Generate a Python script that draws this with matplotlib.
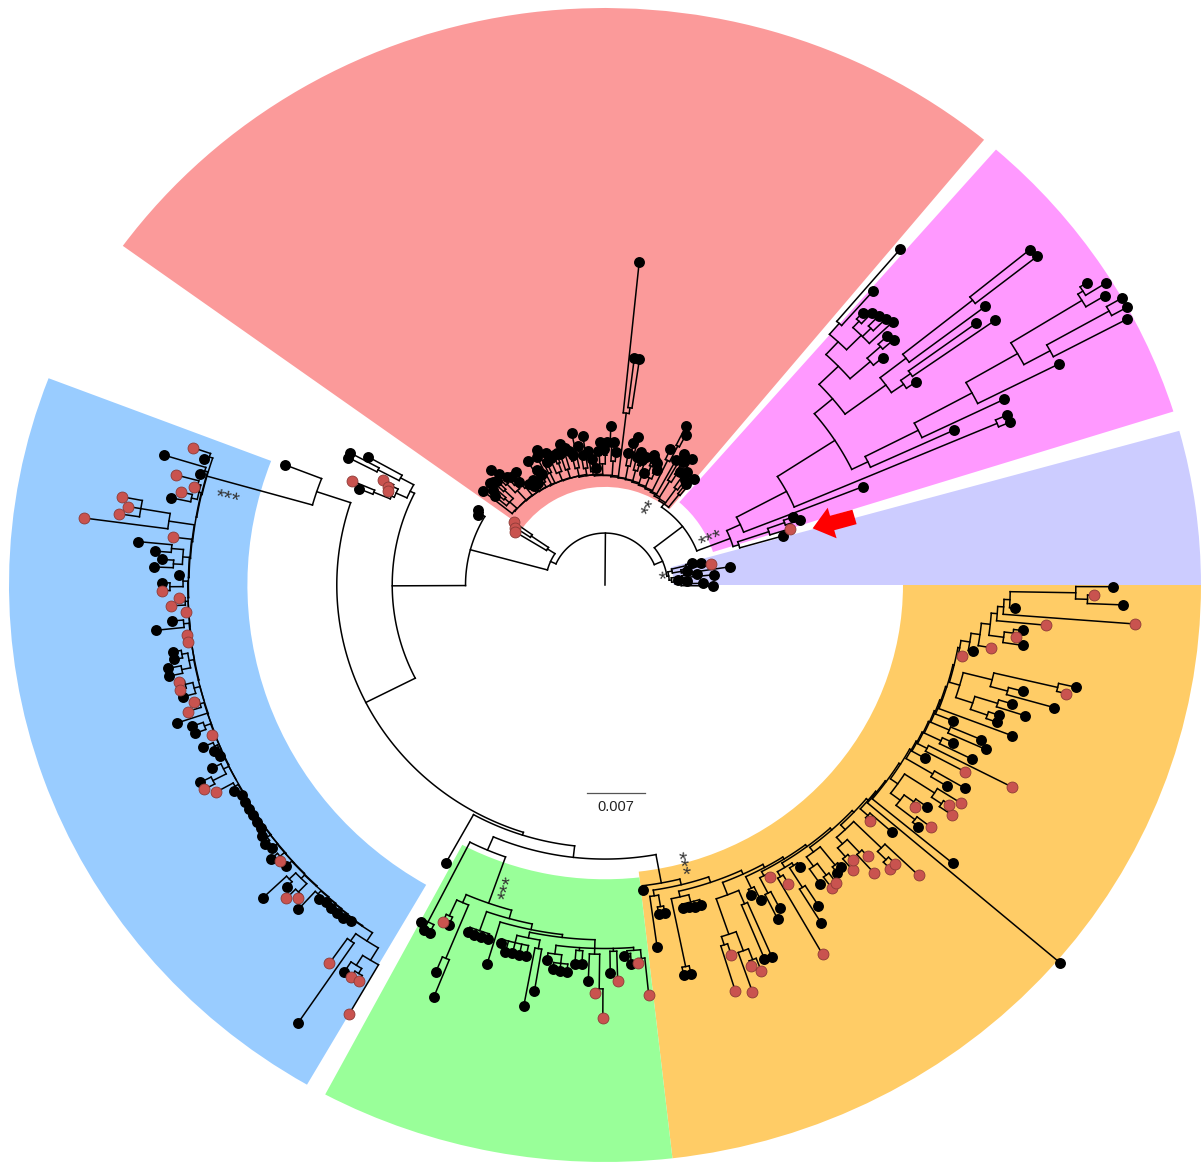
import numpy as np
import matplotlib
matplotlib.use('Agg')
import matplotlib.pyplot as plt
from matplotlib.patches import Wedge, FancyArrow
from matplotlib.collections import LineCollection

# coloured clade sectors (angles in degrees, radii relative to outer rim)
WEDGE_START = [50.5, 17.5, 0.0, -83.5, -118.0, 159.0]
WEDGE_END = [144.0, 49.0, 15.5, 0.0, -83.5, 240.0]
WEDGE_INNER = [0.17, 0.19, 0.115, 0.50, 0.51, 0.60]
WEDGE_OUTER = [1.0, 1.0, 1.0, 1.0, 1.0, 1.0]
WEDGE_COLORS = ['#FB9A9A', '#FF99FF', '#CCCCFF', '#FFCC66', '#99FF99', '#99CCFF']

# tree data: newick-like, value after ':' = distance of the node from the root,
# leaf label b = black tip, r = red tip
LAV = ("(((b:0.151,b:0.165):0.14,(r:0.182,(b:0.14,b:0.212):0.135):0.13):0.115,"
       "((b:0.155,b:0.183):0.13,(b:0.123,(b:0.138,b:0.165,b:0.181):0.128):0.118):0.112):0.108")
ARROW = "(((b:0.337,b:0.346):0.32,r:0.326):0.29,b:0.31):0.235"
MAG_UPPER = ("((((b:0.764,b:0.68):0.6,((b:0.64,b:0.65):0.625,(b:0.655,b:0.66):0.63,b:0.665):0.61):0.575,"
             "((b:0.64,b:0.645):0.62,b:0.61):0.59):0.545,(((b:0.92,b:0.922):0.79,b:0.80):0.64,"
             "((b:0.77,b:0.80):0.63,b:0.63):0.61):0.585):0.5")
MAG_LOWER = ("((((((b:0.963,b:0.99):0.95,b:0.977):0.94,((b:1.0,b:1.0):0.97,b:0.99):0.85):0.8,"
             "b:0.853):0.7,b:0.743):0.59,b:0.645):0.49")
MAG = f"((({MAG_UPPER},{MAG_LOWER}):0.46,(b:0.736,b:0.736):0.715):0.345,b:0.465):0.25"
SMALLRED = "((r:0.188,r:0.18):0.15,r:0.176):0.115"
PAIR = "(b:0.25,b:0.245):0.24"
CLUSTER = "((b:0.455,(b:0.485,b:0.484):0.43):0.39,((r:0.415,r:0.402):0.395,(r:0.399,(r:0.461,b:0.446):0.42):0.39):0.385):0.365"
LONE = "b:0.576"
LEAF241 = "b:0.551"
TRIO = "(b:0.661,b:0.671,b:0.671):0.655"
G_LEFT = "((r:0.644,b:0.644):0.63,(b:0.728,b:0.769):0.7):0.6"
G_COMB = ("((b:0.657,(b:0.671,b:0.673,b:0.674):0.66):0.645,(b:0.659,b:0.658):0.635,"
          "(b:0.687,(r:0.707,r:0.75):0.7):0.64,(b:0.672,r:0.686):0.635,"
          "((b:0.644,b:0.658):0.64,(r:0.658,r:0.714):0.65):0.635):0.63")
G_RIGHT = ("((b:0.644,b:0.645,b:0.644,b:0.644):0.635,(b:0.686,(((b:0.644,b:0.658,b:0.657,b:0.658,b:0.657):0.638,"
           "(b:0.742,b:0.714):0.64):0.625," + G_COMB + "):0.615):0.61):0.6")
GREEN = f"({G_LEFT},{G_RIGHT}):0.585"

# ladder-shaped clades: (backbone radius, hanging subtree)
RED_RUNGS = [
    (0.172, "(b:0.236,b:0.221):0.20"),
    (0.175, "(b:0.226,(b:0.24,b:0.263):0.235):0.205"),
    (0.178, "((b:0.233,b:0.25):0.225,b:0.263):0.21"),
    (0.18, "b:0.248"),
    (0.182, "((b:0.293,b:0.308):0.27,b:0.26):0.24"),
    (0.184, "((b:0.218,b:0.228):0.21,(b:0.233,b:0.24):0.22):0.2"),
    (0.186, "(b:0.205,b:0.232):0.2"),
    (0.187, "((b:0.225,b:0.238):0.215,b:0.228):0.205"),
    (0.188, "((b:0.263,b:0.25):0.235,b:0.232):0.21"),
    (0.19, "((b:0.396,b:0.396):0.31,b:0.563):0.30"),
    (0.19, "(b:0.232,(b:0.248,b:0.276):0.24):0.215"),
    (0.192, "((b:0.248,b:0.235):0.225,(b:0.248,b:0.232):0.226):0.21"),
    (0.192, "((b:0.203,b:0.219):0.2,b:0.234):0.198"),
    (0.194, "(b:0.261,(b:0.228,b:0.246):0.225):0.205"),
    (0.194, "(b:0.27,(b:0.232,b:0.24):0.222):0.208"),
    (0.195, "((b:0.247,b:0.255):0.235,b:0.24):0.21"),
    (0.195, "((b:0.242,b:0.241):0.225,(b:0.238,b:0.25):0.23):0.21"),
    (0.196, "(b:0.234,b:0.26):0.215"),
    (0.196, "b:0.25"),
    (0.197, "((b:0.22,b:0.23):0.21,b:0.25):0.205"),
    (0.197, "((b:0.21,b:0.218):0.205,(b:0.209,b:0.217):0.205):0.2"),
    (0.198, "(b:0.246,b:0.23):0.215"),
    (0.198, "((b:0.245,b:0.25):0.23,(b:0.262,b:0.277):0.24):0.22"),
    (0.199, "((b:0.255,b:0.26):0.235,(b:0.262,b:0.25):0.225,b:0.24):0.215"),
    (None, "b:0.262"),
]
BLUE_RUNGS = [
    (0.694, "(r:0.731,b:0.708):0.70"),
    (0.695, "(b:0.773,b:0.706):0.70"),
    (0.696, "((r:0.745,r:0.71):0.705,(r:0.729,b:0.743):0.71):0.70"),
    (0.697, "((r:0.824,r:0.811,r:0.824):0.79,r:0.881):0.74"),
    (0.698, "r:0.729"),
    (0.699, "((b:0.787,b:0.757):0.73,(b:0.744,b:0.758):0.725):0.71"),
    (0.70, "(b:0.715,(b:0.743,r:0.743):0.73):0.708"),
    (0.70, "(r:0.715,r:0.729):0.705"),
    (0.70, "r:0.705"),
    (0.701, "(b:0.729,b:0.758):0.71"),
    (0.701, "(r:0.706,r:0.706):0.703"),
    (0.702, "((b:0.734,b:0.734):0.72,(b:0.748,b:0.749):0.725):0.71"),
    (0.702, "((r:0.735,r:0.736):0.725,b:0.734):0.712"),
    (0.703, "(r:0.719,r:0.734):0.71"),
    (0.703, "b:0.757"),
    (0.704, "(b:0.735,b:0.734):0.715"),
    (0.704, "r:0.708"),
    (0.705, "((b:0.731,b:0.716):0.712,b:0.71):0.707"),
    (0.705, "(b:0.731,(b:0.76,r:0.76):0.74):0.715"),
    (0.706, "(r:0.745,b:0.717):0.712"),
    (0.706, "b:0.71"), (0.707, "b:0.711"), (0.707, "b:0.712"),
    (0.708, "b:0.713"), (0.708, "b:0.714"), (0.709, "b:0.715"),
    (0.709, "(b:0.722,b:0.725):0.716"),
    (0.71, "b:0.722"),
    (0.71, "(b:0.735,r:0.725):0.72"),
    (0.711, "b:0.724"),
    (0.712, "((b:0.79,b:0.747):0.735,(r:0.762,r:0.747):0.74):0.72"),
    (0.713, "(b:0.762,b:0.725):0.72"),
    (0.714, "b:0.722"), (0.715, "b:0.724"), (0.716, "b:0.725"), (0.717, "b:0.726"),
    (0.718, "b:0.722"),
    (None, "((r:0.802,b:0.917):0.75,((b:0.80,(r:0.802,r:0.802):0.79):0.78,r:0.858):0.76):0.735"),
]
ORANGE_RUNGS = [
    (0.525, "b:0.533"),
    (0.535, "(b:0.633,(b:0.577,b:0.577):0.565):0.545"),
    (0.545, "((b:0.689,b:0.689):0.675,(b:0.575,b:0.576,b:0.578,b:0.578):0.568):0.555"),
    (0.552, "(((r:0.737,r:0.676):0.655,(r:0.747,(r:0.705,r:0.718):0.695):0.675):0.64,(b:0.701,b:0.703):0.60):0.575"),
    (0.558, "(b:0.591,b:0.605):0.58"),
    (0.562, "((b:0.647,b:0.632):0.6,r:0.576):0.57"),
    (0.566, "((r:0.737,r:0.602):0.585,((b:0.689,b:0.661):0.62,b:0.589):0.58):0.575"),
    (0.57, "((b:0.631,(r:0.648,r:0.646):0.625):0.6,(b:0.633,b:0.63):0.62):0.58"),
    (0.574, "(((r:0.646,r:0.632):0.62,(r:0.674,r:0.645):0.63):0.6,((r:0.687,r:0.686):0.67,r:0.728):0.65):0.585"),
    (0.578, "(r:0.604,b:0.644):0.595"),
    (0.58, "b:1.006"),
    (0.582, "b:0.757"),
    (0.585, "(((b:0.672,r:0.689):0.66,(r:0.646,b:0.663):0.64):0.62,((r:0.705,r:0.692):0.68,r:0.706):0.66):0.6"),
    (0.588, "(b:0.671,b:0.70):0.64"),
    (0.59, "b:0.616"),
    (0.592, "(r:0.686,r:0.768):0.61"),
    (0.594, "(b:0.685,b:0.645):0.625"),
    (0.596, "(b:0.70,b:0.686):0.63"),
    (0.598, "b:0.629"),
    (0.60, "b:0.732"),
    (0.602, "(((b:0.70,b:0.699):0.68,(b:0.741,b:0.714):0.69):0.65,((b:0.783,b:0.725):0.7,(r:0.796,b:0.81):0.78):0.67):0.62"),
    (None, "(r:0.612,(b:0.628,(r:0.657,((b:0.709,(r:0.696,b:0.705):0.69):0.675,(r:0.743,(r:0.892,(b:0.689,"
           "((b:0.87,r:0.82):0.81,b:0.852):0.79):0.68):0.67):0.66):0.65):0.635):0.62):0.605"),
]

# angular range of the tips of each clade (first tip, last tip)
CLADE_SPANS = {
    'LAV': (14.6, -0.5), 'ARROW': (20.5, 15.9), 'MAG': (49.6, 21.5), 'RED': (51.0, 141.5),
    'SMALLRED': (144.5, 148.6), 'PAIR': (148.5, 150.5), 'CLUSTER': (150.8, 158.0),
    'LONE': (158.8, 158.8), 'BLUE': (161.0, 240.0), 'LEAF241': (241.0, 241.0),
    'TRIO': (242.1, 244.0), 'GREEN': (245.0, 275.9), 'ORANGE': (276.9, 359.8),
}
# deep backbone: node -> (radius, children)
BACKBONE = {
    'root': (0.09, ['right', 'left']),
    'right': (0.105, ['LAV', 'rm']),
    'rm': (0.165, ['magarrow', 'RED']),
    'magarrow': (0.225, ['ARROW', 'MAG']),
    'left': (0.10, ['SMALLRED', 'l2']),
    'l2': (0.234, ['PAIR', 'l3']),
    'l3': (0.357, ['CLUSTER', 'l4']),
    'l4': (0.45, ['l4a', 'l5']),
    'l4a': (0.51, ['LONE', 'BLUE']),
    'l5': (0.455, ['LEAF241', 'l6']),
    'l6': (0.475, ['l7', 'ORANGE']),
    'l7': (0.50, ['TRIO', 'GREEN']),
}
# support asterisks: node, number of stars, mid radius, angular offset from the node's stem
STARS = [('BLUE', 3, 0.651, 2.6), ('GREEN', 3, 0.55, 2.4), ('ORANGE', 3, 0.50, 4.0),
         ('magarrow', 3, 0.194, 2.4), ('RED', 2, 0.153, 5.0), ('LAV', 1, 0.098, -3.0)]
SCALE_VALUE = 0.007
SCALE_LEN = 0.0973


def ladder(rungs):
    s = rungs[-1][1]
    for r, sub in reversed(rungs[:-1]):
        s = f"({sub},{s}):{r}"
    return s


def parse_newick(text):
    s = text.replace(' ', '')
    pos = 0

    def read():
        nonlocal pos
        kids, label = [], ''
        if s[pos] == '(':
            pos += 1
            kids.append(read())
            while s[pos] == ',':
                pos += 1
                kids.append(read())
            pos += 1
        else:
            st = pos
            while s[pos] not in ':,()':
                pos += 1
            label = s[st:pos]
        r = 0.0
        if pos < len(s) and s[pos] == ':':
            pos += 1
            st = pos
            while pos < len(s) and s[pos] not in ',()':
                pos += 1
            r = float(s[st:pos])
        return {'kids': kids, 'lab': label, 'r': r}
    return read()


def tips_of(n):
    if not n['kids']:
        return [n]
    return [t for k in n['kids'] for t in tips_of(k)]


def place(n):
    if n['kids']:
        angs = [place(k) for k in n['kids']]
        n['lo'], n['hi'] = min(angs), max(angs)
        n['a'] = 0.5 * (n['lo'] + n['hi'])
    return n['a']


def pol(r, a):
    t = np.radians(a)
    return r * np.cos(t), r * np.sin(t)


def gather(n, segs, tips):
    if not n['kids']:
        tips.append(n)
        return
    th = np.linspace(n['lo'], n['hi'], int(abs(n['hi'] - n['lo']) * 3) + 2)
    x, y = pol(n['r'], th)
    segs.append(np.column_stack([x, y]))
    for k in n['kids']:
        segs.append(np.array([pol(n['r'], k['a']), pol(k['r'], k['a'])]))
        gather(k, segs, tips)


clade_text = {'LAV': LAV, 'ARROW': ARROW, 'MAG': MAG, 'RED': ladder(RED_RUNGS),
              'SMALLRED': SMALLRED, 'PAIR': PAIR, 'CLUSTER': CLUSTER, 'LONE': LONE,
              'BLUE': ladder(BLUE_RUNGS), 'LEAF241': LEAF241, 'TRIO': TRIO,
              'GREEN': GREEN, 'ORANGE': ladder(ORANGE_RUNGS)}
nodes = {}
for name, txt in clade_text.items():
    t = parse_newick(txt)
    lv = tips_of(t)
    for leaf, a in zip(lv, np.linspace(*CLADE_SPANS[name], len(lv))):
        leaf['a'] = a
    nodes[name] = t
for name, (r, kids) in BACKBONE.items():
    nodes[name] = {'kids': [], 'lab': '', 'r': r}
for name, (r, kids) in BACKBONE.items():
    nodes[name]['kids'] = [nodes[k] for k in kids]
root = nodes['root']
place(root)

segs, tips = [np.array([pol(0, root['a']), pol(root['r'], root['a'])])], []
gather(root, segs, tips)

fig = plt.figure(figsize=(12.03, 11.64), dpi=100)
ax = fig.add_axes([0, 0, 1, 1])
ax.set_xlim(-1.0151, 1.0034)
ax.set_ylim(-1.0035, 1.0139)
ax.axis('off')

for a0, a1, rin, rout, col in zip(WEDGE_START, WEDGE_END, WEDGE_INNER, WEDGE_OUTER, WEDGE_COLORS):
    ax.add_patch(Wedge((0, 0), rout, a0, a1, width=rout - rin, facecolor=col,
                       edgecolor='none', zorder=0))

ax.add_collection(LineCollection(segs, colors='black', linewidths=1.1,
                                 capstyle='projecting', zorder=2))

tx, ty = pol(np.array([t['r'] for t in tips]), np.array([t['a'] for t in tips]))
is_red = np.array([t['lab'] == 'r' for t in tips])
ax.scatter(tx[~is_red], ty[~is_red], s=62, color='black', zorder=3, linewidths=0)
ax.scatter(tx[is_red], ty[is_red], s=62, color='#C9534F', edgecolors='#8E3B37',
           linewidths=0.6, zorder=3)

# one text per star group, laid along the stem direction
for name, n, rr, off in STARS:
    ang = nodes[name]['a'] + off
    sx, sy = pol(rr, ang)
    rot = ang if -90 <= ((ang + 180) % 360 - 180) <= 90 else ang - 180
    ax.text(sx, sy, '*' * n, fontsize=15, family='Liberation Sans',
            color='#333333', ha='center', va='center', rotation=rot,
            rotation_mode='anchor', zorder=4)

# red arrow pointing at the highlighted tips
aa = nodes['ARROW']['a'] - 1.5
x0, y0 = pol(0.435, aa)
x1, y1 = pol(0.362, aa)
ax.add_patch(FancyArrow(x0, y0, x1 - x0, y1 - y0, width=0.026, head_width=0.055,
                        head_length=0.034, length_includes_head=True, color='#FF0000',
                        linewidth=0, zorder=5))

# scale bar
ax.plot([-0.0302, -0.0302 + SCALE_LEN], [-0.3605, -0.3605], color='#555555', lw=0.9)
ax.text(-0.0302 + SCALE_LEN / 2, -0.384, f'{SCALE_VALUE:.3f}', fontsize=10.5,
        family='Liberation Sans', ha='center', va='center', color='#222222')

fig.savefig('out.png', dpi=100)
